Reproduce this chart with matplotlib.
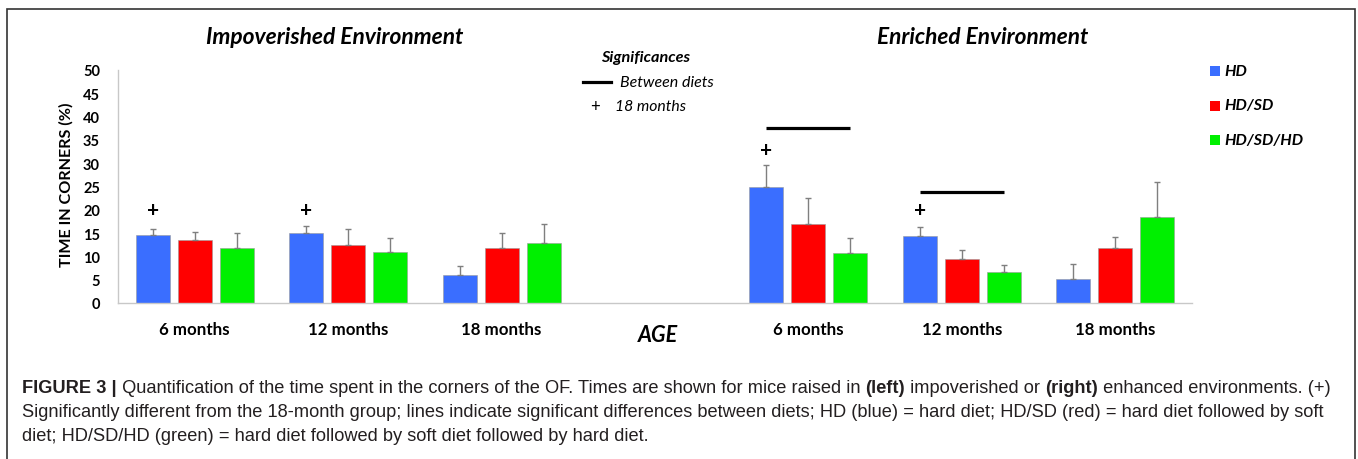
import matplotlib
matplotlib.use("Agg")
import matplotlib.pyplot as plt
import numpy as np
from matplotlib.patches import Rectangle
from matplotlib.lines import Line2D

# ---------------- data ----------------
categories = ["6 months", "12 months", "18 months", "", "6 months", "12 months", "18 months"]
series_names = ["HD", "HD/SD", "HD/SD/HD"]
colors = ["#3A6EFF", "#FF0000", "#00F000"]

hd_mean      = [14.5, 15.1, 6.0, np.nan, 24.9, 14.3, 5.1]
hdsd_mean    = [13.6, 12.4, 11.8, np.nan, 16.9, 9.5, 11.8]
hdsdhd_mean  = [11.7, 10.9, 12.9, np.nan, 10.8, 6.6, 18.4]

hd_err      = [1.4, 1.4, 2.0, 0, 4.8, 2.0, 3.3]
hdsd_err    = [1.6, 3.4, 3.2, 0, 5.6, 1.9, 2.3]
hdsdhd_err  = [3.3, 3.0, 4.0, 0, 3.2, 1.6, 7.6]

# "+" markers (significantly different from 18 months): (category index, series index, y)
plus_marks = [(0, 0, 19.9), (1, 0, 19.9), (4, 0, 32.9), (5, 0, 19.9)]
# lines between diets: (category index, from series, to series, y)
diet_lines = [(4, 0, 2, 37.6), (5, 0, 2, 23.9)]

yticks = [0, 5, 10, 15, 20, 25, 30, 35, 40, 45, 50]

means = [hd_mean, hdsd_mean, hdsdhd_mean]
errs = [hd_err, hdsd_err, hdsdhd_err]

FONT = ["Lato", "DejaVu Sans"]
CAP = ["Liberation Sans", "DejaVu Sans"]

W, H = 1358, 460
fig = plt.figure(figsize=(W / 100, H / 100), dpi=100)
fig.patch.set_facecolor("white")

def px(x, y):
    return x / W, 1 - y / H

# outer box
fig.add_artist(Rectangle(px(7, 470), (1355 - 7) / W, (470 - 10) / H,
                         transform=fig.transFigure, fill=False, lw=1.2, ec="#333333"))

l, b = px(118, 304)
r, t = px(1192, 71)
ax = fig.add_axes([l, b, r - l, t - b])

n = len(categories)
x = np.arange(n) + 0.5
bw = 0.2216
step = 0.2738
offs = [-step, 0, step]

for i in range(3):
    m = np.array(means[i], dtype=float)
    e = np.array(errs[i], dtype=float)
    mask = ~np.isnan(m)
    xs = x[mask] + offs[i]
    ax.bar(xs, m[mask], width=bw, color=colors[i], edgecolor="#9a9a9a", linewidth=0.4, zorder=2)
    ax.errorbar(xs, m[mask], yerr=[np.zeros(mask.sum()), e[mask]], fmt="none",
                ecolor="#7f7f7f", elinewidth=1.0, capsize=2.5, capthick=1.0, zorder=3)

for ci, si, yv in plus_marks:
    ax.text(x[ci] + offs[si], yv, "+", ha="center", va="center", fontsize=15,
            fontweight="bold", family=FONT, color="black")

for ci, s0, s1, yv in diet_lines:
    ax.plot([x[ci] + offs[s0], x[ci] + offs[s1]], [yv, yv], color="black", lw=2.3,
            solid_capstyle="butt", zorder=4)

ax.set_xlim(0, n)
ax.set_ylim(0, 50)
ax.set_yticks(yticks)
ax.set_yticklabels([str(v) for v in yticks], fontsize=10.5, fontweight="bold", family=FONT)
ax.set_xticks(x)
ax.set_xticklabels(categories, fontsize=12.2, fontweight="bold", family=FONT)
ax.tick_params(axis="both", length=0)
ax.tick_params(axis="y", pad=13)
ax.tick_params(axis="x", pad=13)
for s in ["top", "right"]:
    ax.spines[s].set_visible(False)
for s in ["left", "bottom"]:
    ax.spines[s].set_color("#c8c8c8")
    ax.spines[s].set_linewidth(1.0)
ax.patch.set_alpha(0)

# y label
fig.text(*px(66, 185), "TIME IN CORNERS (%)", rotation=90, ha="center", va="center",
         fontsize=11.6, fontweight="bold", family=FONT)

# titles
fig.text(*px(335, 37), "Impoverished Environment", ha="center", va="center",
         fontsize=16.4, fontweight="bold", style="italic", family=FONT)
fig.text(*px(983, 37), "Enriched Environment", ha="center", va="center",
         fontsize=16.3, fontweight="bold", style="italic", family=FONT)
fig.text(*px(658, 336), "AGE", ha="center", va="center",
         fontsize=15.5, fontweight="bold", style="italic", family=FONT)

# significance key
fig.text(*px(646, 58), "Significances", ha="center", va="center",
         fontsize=11.7, fontweight="bold", style="italic", family=FONT)
fig.add_artist(Line2D([583 / W, 611 / W], [1 - 83 / H, 1 - 83 / H], color="black", lw=2.3,
                      transform=fig.transFigure))
fig.text(*px(620, 83), "Between diets", ha="left", va="center",
         fontsize=11.5, style="italic", family=FONT)
fig.text(*px(595, 107), "+", ha="center", va="center",
         fontsize=12, family=FONT)
fig.text(*px(615, 107), "18 months", ha="left", va="center",
         fontsize=11.3, style="italic", family=FONT)

# diet legend
leg_y = [71.5, 106.5, 141]
for i, name in enumerate(series_names):
    fig.add_artist(Rectangle(px(1210, leg_y[i] + 5), 10 / W, 10 / H, transform=fig.transFigure,
                             color=colors[i], lw=0))
    fig.text(*px(1224, leg_y[i]), name, ha="left", va="center",
             fontsize=11.5, fontweight="bold", style="italic", family=FONT)

# caption
cap_lines = [
    [("FIGURE 3 |", "bold"), (" Quantification of the time spent in the corners of the OF. Times are shown for mice raised in ", "normal"),
     ("(left)", "bold"), (" impoverished or ", "normal"), ("(right)", "bold"), (" enhanced environments. (+)", "normal")],
    [("Significantly different from the 18-month group; lines indicate significant differences between diets; HD (blue) = hard diet; HD/SD (red) = hard diet followed by soft", "normal")],
    [("diet; HD/SD/HD (green) = hard diet followed by soft diet followed by hard diet.", "normal")],
]
cap_y = [389, 413, 437]
renderer = fig.canvas.get_renderer()

def draw_line(parts, y0, size, draw=True):
    xcur = 22.0
    arts = []
    for txt, wt in parts:
        tx = fig.text(xcur / W, 1 - y0 / H, txt, ha="left", va="center", fontsize=size,
                      fontweight=wt, family=CAP, color="#231f20")
        bb = tx.get_window_extent(renderer)
        xcur += bb.width
        arts.append(tx)
    if not draw:
        for a in arts:
            a.remove()
    return xcur

size = 10.5
wtest = draw_line(cap_lines[0], cap_y[0], size, draw=False)
size = size * (1338 - 22) / (wtest - 22)
for parts, yy in zip(cap_lines, cap_y):
    draw_line(parts, yy, size)

fig.savefig("out.png", dpi=100, facecolor="white")
